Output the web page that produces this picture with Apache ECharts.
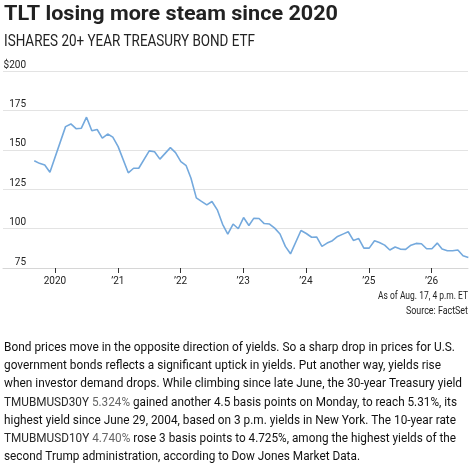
<!DOCTYPE html>
<html>
<head>
<meta charset="utf-8">
<script src="https://cdn.jsdelivr.net/npm/echarts@6/dist/echarts.min.js"></script>
<style>
  html, body { margin: 0; padding: 0; background: #fff; }
  #chart { width: 472px; height: 467px; }
</style>
</head>
<body>
<div id="chart"></div>
<script>
// month-end-ish closes
const months = [
  '2019-09', '2019-10', '2019-11', '2019-12', '2020-03', '2020-04', '2020-05', '2020-06',
  '2020-07', '2020-08', '2020-09', '2020-10', '2020-11', '2020-12', '2021-01', '2021-03',
  '2021-04', '2021-05', '2021-07', '2021-08', '2021-09', '2021-11', '2021-12', '2022-01',
  '2022-02', '2022-03', '2022-04', '2022-05', '2022-06', '2022-07', '2022-08', '2022-09',
  '2022-10', '2022-11', '2022-12', '2023-01', '2023-02', '2023-03', '2023-04', '2023-05',
  '2023-06', '2023-07', '2023-08', '2023-09', '2023-10', '2023-12', '2024-01', '2024-02',
  '2024-03', '2024-04', '2024-05', '2024-06', '2024-07', '2024-08', '2024-09', '2024-10',
  '2024-11', '2024-12', '2025-01', '2025-02', '2025-03', '2025-04', '2025-05', '2025-06',
  '2025-07', '2025-08', '2025-09', '2025-10', '2025-11', '2025-12', '2026-01', '2026-02',
  '2026-03', '2026-04', '2026-05', '2026-06', '2026-07', '2026-08'
];
const prices = [
  143.0, 141.4, 140.3, 135.8, 164.7, 166.4, 163.4, 163.7,
  170.7, 162.1, 162.9, 157.4, 160.0, 158.0, 152.0, 135.4,
  138.3, 138.3, 149.3, 148.8, 144.1, 151.4, 148.2, 142.5,
  139.9, 132.0, 119.5, 117.3, 115.1, 117.2, 111.9, 102.7,
  96.5, 102.9, 99.9, 107.0, 102.0, 106.5, 106.4, 103.2,
  102.9, 100.3, 96.6, 88.7, 84.0, 98.8, 96.9, 94.5,
  94.7, 88.7, 90.8, 92.3, 95.0, 96.5, 98.0, 92.5,
  93.7, 87.6, 87.6, 92.3, 91.2, 89.5, 86.4, 88.3,
  87.0, 86.8, 89.5, 90.6, 90.4, 87.2, 87.2, 90.8,
  87.0, 85.9, 85.9, 86.4, 82.8, 81.7
];
const yearTicks = ['2020-01-01', '2021-01-01', '2022-01-01', '2023-01-01', '2024-01-01', '2025-01-01', '2026-01-01'];
const yTicks = [75, 100, 125, 150, 175, 200];

const title = 'TLT losing more steam since 2020';
const subtitle = 'ISHARES 20+ YEAR TREASURY BOND ETF';
const notes = ['As of Aug. 17, 4 p.m. ET', 'Source: FactSet'];

// b = body, t = ticker symbol, q = quote
const bodyLines = [
  [['b', 'Bond prices move in the opposite direction of yields. So a sharp drop in prices for U.S.']],
  [['b', 'government bonds reflects a significant uptick in yields. Put another way, yields rise']],
  [['b', 'when investor demand drops. While climbing since late June, the 30-year Treasury yield']],
  [['t', 'TMUBMUSD30Y'], ['b', ' '], ['q', '5.324%'], ['b', ' gained another 4.5 basis points on Monday, to reach 5.31%, its']],
  [['b', 'highest yield since June 29, 2004, based on 3 p.m. yields in New York. The 10-year rate']],
  [['t', 'TMUBMUSD10Y'], ['b', ' '], ['q', '4.740%'], ['b', ' rose 3 basis points to 4.725%, among the highest yields of the']],
  [['b', 'second Trump administration, according to Dow Jones Market Data.']]
];

const FONT = 'Roboto, "Noto Sans", sans-serif';
const bodyFonts = {
  b: { font: '13.5px ' + FONT, fill: '#111' },
  t: { font: '13.5px ' + FONT, fill: '#2b2b2b' },
  q: { font: '13.5px ' + FONT, fill: '#666' }
};
// right edge of each body line in the reference
const bodyEnds = [455, 441, 462, 457, 456, 456, 360];

const ctx = document.createElement('canvas').getContext('2d');
function measure(text, font) {
  ctx.font = font;
  return ctx.measureText(text).width;
}

// squeeze a text item horizontally so it spans the width it has in the reference
function fitted(text, font, x, y, width, fill) {
  return {
    type: 'text', x: x, y: y, scaleX: width / measure(text, font), silent: true,
    style: { text: text, font: font, fill: fill, verticalAlign: 'bottom' }
  };
}

const graphics = [
  fitted(title, 'bold 21px ' + FONT, 4, 25, 334, '#222'),
  fitted(subtitle, '17px ' + FONT, 4, 50, 251, '#222')
];

notes.forEach(function (n, i) {
  const f = '10px ' + FONT;
  const w = i === 0 ? 90 : 62;
  graphics.push({
    type: 'text', x: 468, y: 301 + i * 15.7, scaleX: w / measure(n, f), silent: true,
    style: { text: n, font: f, fill: '#222', align: 'right', verticalAlign: 'bottom' }
  });
});

bodyLines.forEach(function (parts, i) {
  let w = 0;
  parts.forEach(function (p) { w += measure(p[1], bodyFonts[p[0]].font); });
  const text = parts.map(function (p) { return '{' + p[0] + '|' + p[1] + '}'; }).join('');
  graphics.push({
    type: 'text', x: 4, y: 355 + i * 18.05, scaleX: (bodyEnds[i] - 4) / w, silent: true,
    style: { text: text, rich: bodyFonts, verticalAlign: 'bottom' }
  });
});

const parse = function (s) { return +echarts.time.parse(s); };

const chart = echarts.init(document.getElementById('chart'), null, { renderer: 'canvas' });
chart.setOption({
  animation: false,
  backgroundColor: '#fff',
  grid: { left: 3, right: 4, top: 71, bottom: 199 },
  xAxis: {
    type: 'value',
    min: parse('2019-03-05'),
    max: parse('2026-08-01'),
    axisLine: { show: true, lineStyle: { color: '#d6d6d6', width: 1 } },
    axisTick: {
      show: true, length: 5,
      lineStyle: { color: '#333', width: 1 },
      customValues: yearTicks.map(parse)
    },
    axisLabel: {
      customValues: yearTicks.map(parse),
      margin: 8,
      color: '#222',
      fontSize: 10,
      fontFamily: FONT,
      formatter: function (v) {
        const y = new Date(v).getFullYear();
        return y === 2020 ? '2020' : '\u2019' + String(y).slice(2);
      }
    },
    splitLine: { show: false }
  },
  yAxis: {
    type: 'value',
    min: yTicks[0],
    max: yTicks[yTicks.length - 1],
    interval: 25,
    axisLine: { show: false },
    axisTick: { show: false },
    splitLine: { show: true, lineStyle: { color: '#e3e3e3', width: 1 } },
    axisLabel: {
      inside: true,
      align: 'right',
      verticalAlign: 'bottom',
      margin: 23,
      padding: [0, 0, 1, 0],
      color: '#222',
      fontSize: 10,
      fontFamily: FONT,
      formatter: function (v) { return v === 200 ? '$200' : String(v); }
    }
  },
  series: [{
    type: 'line',
    data: months.map(function (m, i) { return [parse(m + '-03'), prices[i]]; }),
    symbol: 'none',
    lineStyle: { color: '#74a9dd', width: 1.6 },
    z: 3
  }],
  graphic: graphics
});
</script>
</body>
</html>
